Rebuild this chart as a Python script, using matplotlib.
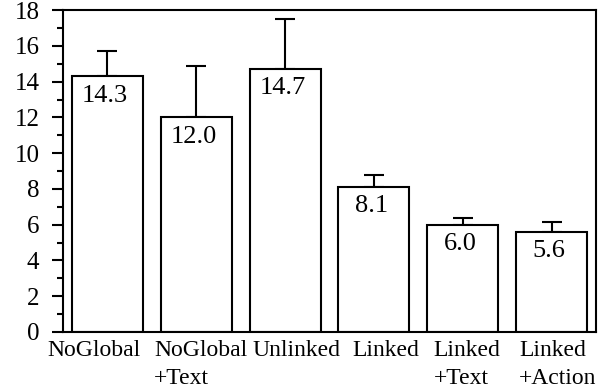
import matplotlib.pyplot as plt
import numpy as np

conditions = ["NoGlobal", "NoGlobal\n+Text", "Unlinked", "Linked", "Linked\n+Text", "Linked\n+Action"]
means = [14.3, 12.0, 14.7, 8.1, 6.0, 5.6]
upper_err = [1.4, 2.9, 2.8, 0.7, 0.4, 0.55]

# hand-placed label nudges (data units) so names sit like the printed figure
label_shift = [-0.15, 0.05, 0.13, 0.13, 0.05, 0.07]

plt.rcParams["font.family"] = ["Liberation Serif", "DejaVu Serif"]

fig = plt.figure(figsize=(6.02, 3.91), dpi=100)
ax = fig.add_axes([0.1047, 0.151, 0.8853, 0.823])

x = np.arange(len(conditions))
ax.bar(x, means, width=0.8, color="white", edgecolor="black", linewidth=1.5, zorder=2)
ax.errorbar(x, means, yerr=[np.zeros(len(means)), upper_err], fmt="none",
            ecolor="black", elinewidth=1.5, capsize=7, capthick=1.5, zorder=1)

for xi, m in zip(x, means):
    ax.annotate(f"{m:.1f}", (xi, m), xytext=(-2, -6), textcoords="offset points",
                ha="center", va="top", fontsize=19)

ax.set_xlim(-0.5, 5.5)
ax.set_ylim(0, 18)
ax.set_yticks(np.arange(0, 19, 2))
ax.set_yticks(np.arange(1, 18, 2), minor=True)
ax.tick_params(axis="y", which="major", direction="out", length=8, width=1.5, labelsize=18, pad=9)
ax.tick_params(axis="y", which="minor", direction="out", length=4.5, width=1.5)

ax.set_xticks([])
for xi, name, dx in zip(x, conditions, label_shift):
    ax.text(xi + dx, -0.45, name, ha="center", va="top", multialignment="left",
            fontsize=17, linespacing=1.45)

for s in ax.spines.values():
    s.set_linewidth(1.5)

fig.savefig("out.png", dpi=100)
